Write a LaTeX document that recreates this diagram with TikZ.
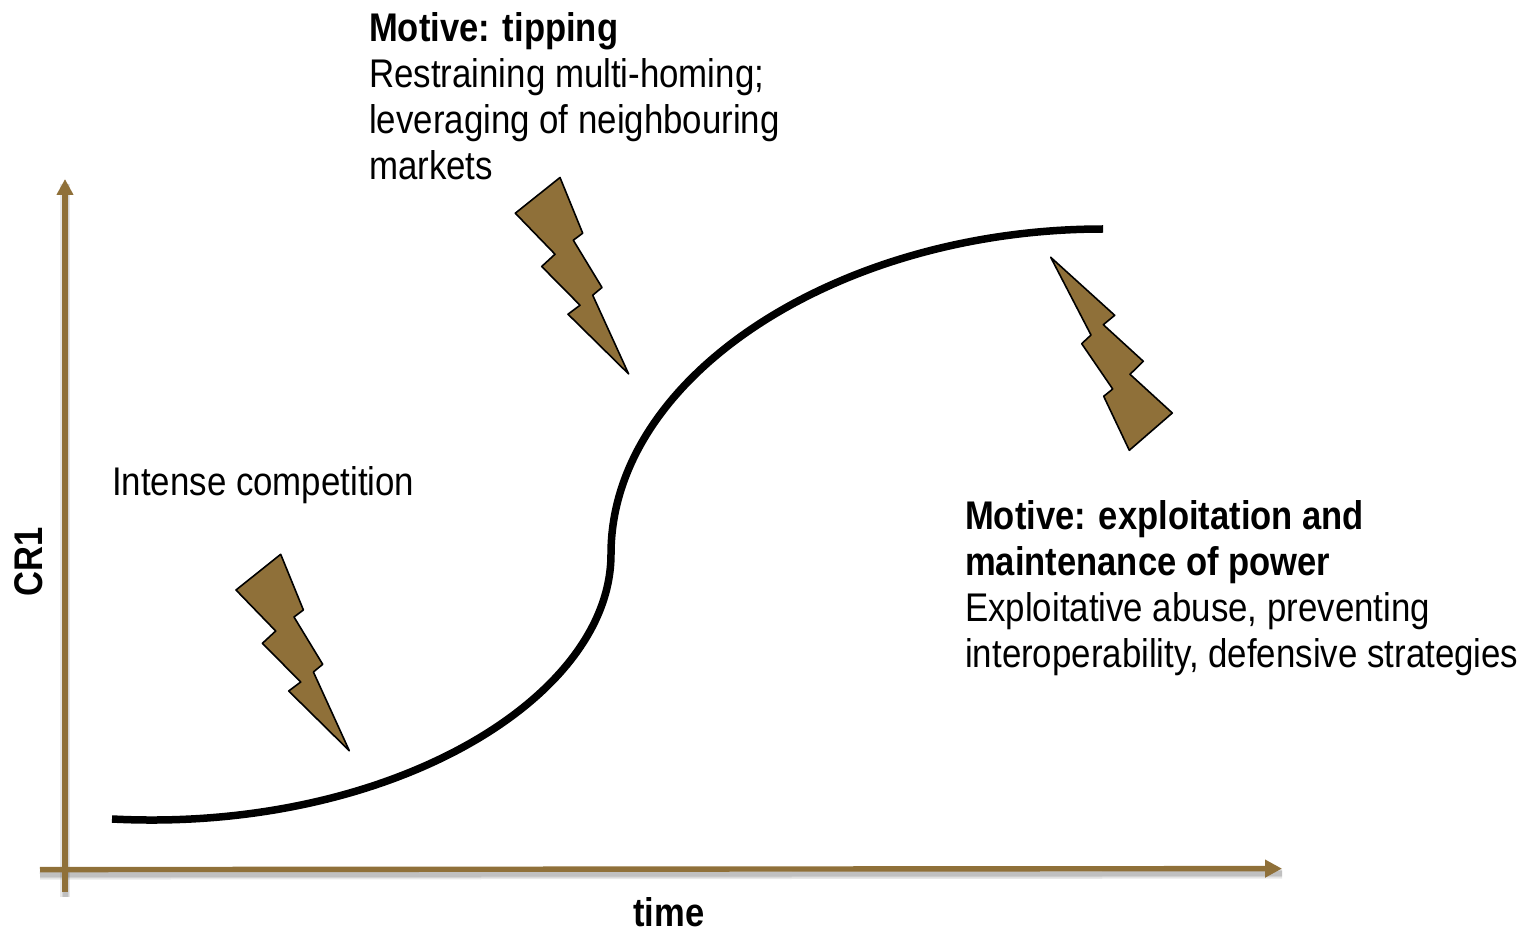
\documentclass[tikz,border=0pt]{standalone}
\usepackage{fontspec}
\setmainfont[FakeStretch=0.871,BoldFeatures={FakeStretch=0.864}]{Liberation Sans}
\usetikzlibrary{arrows.meta}
\definecolor{axisbrown}{HTML}{8F7039}
\tikzset{
  x=1pt,y=-1pt,
  label text/.style={anchor=north west,inner sep=0pt,align=left,font=\fontsize{40}{46}\selectfont},
  axis line/.style={draw=axisbrown,line width=5.4pt},
  axis shadow/.style={draw=black,opacity=0.09},
  bolt/.style={draw=black,line width=1.6pt,fill=axisbrown,line join=round},
  growth/.style={draw=black,line width=7.5pt}
}
\newcommand{\boltshape}{(280.7,554.3) -- (303.4,610) -- (294,617) -- (322.7,664.3) -- (313.4,672) -- (349.3,750.7) -- (288.7,691) -- (300.7,682) -- (262.4,643.3) -- (275.7,631) -- (236,590) -- cycle}
\begin{document}
\begin{tikzpicture}
\useasboundingbox (0,0) rectangle (1524,933);
\coordinate (xs) at (40,869.6);
\coordinate (xe) at (1282,868.6);
\coordinate (ys) at (65,892);
\coordinate (ye) at (65,179);
% soft shadows
\foreach \w in {10,7,5}{
  \draw[axis shadow,line width=\w pt] ([yshift=-5pt]xs) -- ([yshift=-5pt]xe);
  \draw[axis shadow,line width=\w pt] ([yshift=-5pt]ys) -- ([yshift=-5pt]ye);
}
\draw[axis line,-{Triangle[length=17pt,width=17pt]}] (xs) -- (xe);
\draw[axis line,-{Triangle[length=16pt,width=16pt]}] (ys) -- (ye);
% curve
\coordinate (c0) at (112,819);
\coordinate (c1) at (611,554);
\coordinate (c2) at (1103,229);
\draw[growth] (c0) .. controls (386,833) and (611,700) .. (c1) .. controls (611,375) and (840,229) .. (c2);
% bolts
\draw[bolt] \boltshape;
\draw[bolt,shift={(279.3,-376.8)}] \boltshape;
\draw[bolt] (1050.7,257.3) -- (1114.7,315.3) -- (1103.3,324.7) -- (1143.3,361.3) -- (1130,374.3) -- (1172.3,413) -- (1129.3,450.3) -- (1103.7,396.3) -- (1112.7,389) -- (1081.7,343.7) -- (1091,335) -- cycle;
% texts
\node[label text] (tip) at (369,12) {\textbf{Motive: tipping}\\Restraining multi-homing;\\leveraging of neighbouring\\markets};
\node[label text] (comp) at (112,466) {Intense competition};
\node[label text] (expl) at (965,500) {\textbf{Motive: exploitation and}\\\textbf{maintenance of power}\\Exploitative abuse, preventing\\interoperability, defensive strategies};
\node[label text,anchor=center,font=\fontsize{40}{46}\selectfont\bfseries] (time) at (669,912) {time};
\node[label text,anchor=center,rotate=90,font=\fontsize{40}{46}\selectfont\bfseries] (cr) at (29,561.5) {CR1};
\end{tikzpicture}
\end{document}
